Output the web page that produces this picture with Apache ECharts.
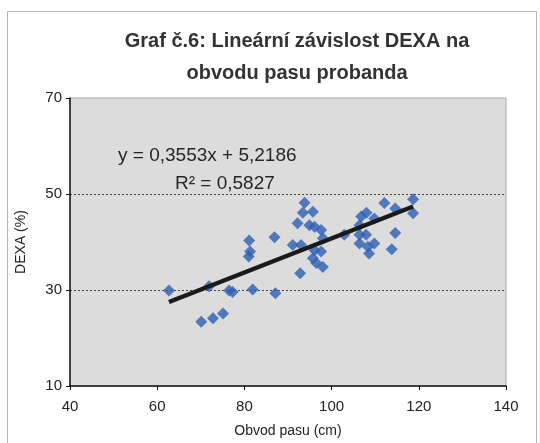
<!DOCTYPE html>
<html>
<head>
<meta charset="utf-8">
<script src="https://cdn.jsdelivr.net/npm/echarts@6/dist/echarts.min.js"></script>
<style>
  html, body { margin: 0; padding: 0; background: #fff; }
  #main { width: 540px; height: 443px; }
</style>
</head>
<body>
<div id="main"></div>
<script>
// obvod pasu (cm) a DEXA (%) jednotlivych probandu
var waistCm = [62.7, 71.9, 76.5, 77.3, 81.9, 87.1, 70.1, 72.8, 75.1, 81.1, 81.0, 81.3, 86.9,
  93.8, 93.4, 95.7, 92.2, 94.9, 96.1, 97.6, 98.0, 91.1, 93.0, 96.1, 97.6, 95.7, 96.5, 98.0, 92.8,
  102.9, 106.8, 108.0, 109.8, 106.4, 106.4, 107.9, 106.4, 108.3, 109.8, 108.6,
  112.1, 114.6, 118.7, 118.7, 114.6, 113.8];
var dexaPct = [29.9, 30.8, 29.9, 29.6, 30.1, 29.3, 23.4, 24.1, 25.1, 40.3, 37.0, 38.0, 41.0,
  48.2, 46.1, 46.3, 43.9, 43.5, 43.2, 42.5, 40.8, 39.4, 39.4, 38.3, 38.0, 36.6, 35.6, 34.8, 33.5,
  41.5, 45.3, 46.1, 44.9, 43.5, 41.5, 41.5, 39.7, 39.0, 39.7, 37.6,
  48.1, 47.0, 48.9, 46.0, 41.9, 38.5];

// linearni regrese z grafu
var slope = 0.3553;
var intercept = 5.2186;
var equationText = 'y = 0,3553x + 5,2186';
var r2Text = 'R² = 0,5827';

var xTicks = [40, 60, 80, 100, 120, 140];
var yTicks = [10, 30, 50, 70];

var points = waistCm.map(function (x, i) { return [x, dexaPct[i]]; });
var xMin = Math.min.apply(null, waistCm);
var xMax = Math.max.apply(null, waistCm);
var trend = [[xMin, slope * xMin + intercept], [xMax, slope * xMax + intercept]];

var myChart = echarts.init(document.getElementById('main'));
var option = {
  backgroundColor: '#fff',
  animation: false,
  title: {
    text: 'Graf č.6: Lineární závislost DEXA na\nobvodu pasu probanda',
    left: 292,
    textAlign: 'center',
    top: 20,
    textStyle: {
      fontFamily: 'Arial, Liberation Sans',
      fontSize: 20,
      fontWeight: 'bold',
      color: '#333',
      lineHeight: 32
    }
  },
  graphic: [
    {
      type: 'rect',
      shape: { x: 7.5, y: 11.5, width: 529, height: 460 },
      style: { fill: null, stroke: '#b5b5b5', lineWidth: 1 },
      z: -1
    },
    {
      type: 'text',
      left: 118,
      top: 146,
      style: { text: equationText, font: '19px Arial, Liberation Sans', fill: '#262626' },
      z: 10
    },
    {
      type: 'text',
      left: 175,
      top: 174,
      style: { text: r2Text, font: '19px Arial, Liberation Sans', fill: '#262626' },
      z: 10
    }
  ],
  grid: {
    left: 70,
    right: 34,
    top: 98,
    bottom: 55,
    show: true,
    backgroundColor: '#dcdcdc',
    borderColor: '#a8a8a8',
    borderWidth: 1
  },
  xAxis: {
    type: 'value',
    min: xTicks[0],
    max: xTicks[xTicks.length - 1],
    interval: xTicks[1] - xTicks[0],
    name: 'Obvod pasu (cm)',
    nameLocation: 'middle',
    nameGap: 38,
    nameTextStyle: { fontFamily: 'Arial, Liberation Sans', fontSize: 14, color: '#222' },
    axisLine: { lineStyle: { color: '#111', width: 1.5 } },
    axisTick: { show: true, length: 4, lineStyle: { color: '#111' } },
    axisLabel: { margin: 13, fontFamily: 'Arial, Liberation Sans', fontSize: 15, color: '#222' },
    splitLine: { show: false }
  },
  yAxis: {
    type: 'value',
    min: yTicks[0],
    max: yTicks[yTicks.length - 1],
    interval: yTicks[1] - yTicks[0],
    name: 'DEXA (%)',
    nameLocation: 'middle',
    nameGap: 42,
    nameTextStyle: { fontFamily: 'Arial, Liberation Sans', fontSize: 14, color: '#222' },
    axisLine: { show: true, lineStyle: { color: '#111', width: 1.5 } },
    axisTick: { show: true, length: 4, lineStyle: { color: '#111' } },
    axisLabel: { margin: 8, fontFamily: 'Arial, Liberation Sans', fontSize: 15, color: '#222' },
    splitLine: {
      show: true,
      showMinLine: false,
      showMaxLine: false,
      lineStyle: { color: '#444', type: [2, 2], width: 1 }
    }
  },
  series: [
    {
      name: 'DEXA',
      type: 'scatter',
      symbol: 'diamond',
      symbolSize: 12,
      itemStyle: { color: '#2d5fb3' },
      data: points,
      z: 3
    },
    {
      name: 'Lineární',
      type: 'line',
      data: trend,
      symbol: 'none',
      lineStyle: { color: '#1a1a1a', width: 4.5 },
      z: 4
    }
  ]
};
myChart.setOption(option);
</script>
</body>
</html>
